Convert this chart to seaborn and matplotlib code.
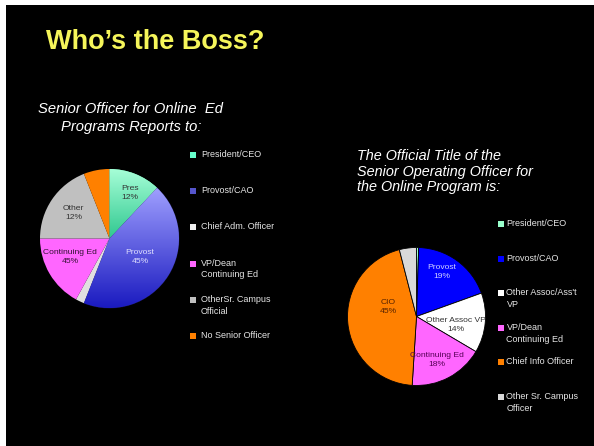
import numpy as np
import matplotlib
matplotlib.use('Agg')
import matplotlib.pyplot as plt
from matplotlib.patches import Rectangle
import seaborn as sns

# ---- data ----
LEFT_CATEGORIES = ['President/CEO', 'Provost/CAO', 'Chief Adm. Officer',
                   'VP/Dean\nContinuing Ed', 'OtherSr. Campus\nOfficial',
                   'No Senior Officer']
LEFT_SHARES = [12, 44, 2, 17, 19, 6]
LEFT_SLICE_LABELS = ['Pres\n12%', 'Provost\n45%', '', 'Continuing Ed\n45%',
                     'Other\n12%', '']

RIGHT_CATEGORIES = ['President/CEO', 'Provost/CAO', "Other Assoc/Ass't\nVP",
                    'VP/Dean\nContinuing Ed', 'Chief Info Officer',
                    'Other Sr. Campus\nOfficer']
RIGHT_SHARES = [0.5, 19, 14, 17.5, 45, 4]
RIGHT_SLICE_LABELS = ['', 'Provost\n19%', 'Other Assoc VP\n14%',
                      'Continuing Ed\n18%', 'CIO\n45%', '']

TITLE = 'Who\u2019s the Boss?'
LEFT_SUBTITLE = 'Senior Officer for Online  Ed\nPrograms Reports to:'
RIGHT_SUBTITLE = ('The Official Title of the\nSenior Operating Officer for\n'
                  'the Online Program is:')

# ---- styles ----
LEFT_COLORS = sns.color_palette(['#66EEB0', '#5050E0', '#E0E0E0', '#FF66FF',
                                 '#C0C0C0', '#FF8000'])
LEFT_LEGEND_COLORS = ['#66FFCC', '#5555CC', '#F0F0F0', '#FF66FF', '#C0C0C0', '#FF8000']
LEFT_GRADIENTS = {0: ('#30C890', '#A8FFD8'), 1: ('#1A1AC0', '#A0A0FF')}
LEFT_LABEL_COLORS = ['#333333', '#E0E0FF', None, '#331133', '#333333', None]
LEFT_LABEL_XY = [(0.30, 0.66), (0.44, -0.27), None, (-0.57, -0.27), (-0.52, 0.37), None]

RIGHT_COLORS = sns.color_palette(['#99FFCC', '#0000FF', '#FFFFFF', '#FF66FF',
                                  '#FF8000', '#D9D9D9'])
RIGHT_LABEL_COLORS = [None, '#D0D0FF', '#333333', '#550055', '#552200', None]
RIGHT_LABEL_XY = [None, (0.37, 0.65), (0.57, -0.12), (0.30, -0.63), (-0.41, 0.14), None]

W, H = 594, 446
FONT = ['Liberation Sans', 'DejaVu Sans']

sns.set_style('dark')
plt.rcParams['font.family'] = FONT


def fx(x):
    return x / W


def fy(y):
    return 1 - y / H


def pie_axes(fig, cx, cy, r):
    return fig.add_axes([fx(cx - r), fy(cy + r), 2 * r / W, 2 * r / H])


def draw_pie(ax, shares, colors, labels, label_xy, label_colors):
    wedges, _ = ax.pie(shares, colors=colors, startangle=90, counterclock=False,
                       wedgeprops=dict(linewidth=0))
    for lab, xy, c in zip(labels, label_xy, label_colors):
        if lab:
            ax.text(xy[0], xy[1], lab, ha='center', va='center', color=c,
                    fontsize=6.1, linespacing=1.35, zorder=5)
    return wedges


def finish(ax):
    ax.set_xlim(-1, 1)
    ax.set_ylim(-1, 1)
    ax.set_aspect('auto')
    ax.axis('off')


def draw_legend(fig, cats, colors, mx, tx, y0, pitch):
    for i, (cat, c) in enumerate(zip(cats, colors)):
        y = y0 + i * pitch
        fig.patches.append(Rectangle((fx(mx - 3), fy(y + 3)), 6 / W, 6 / H,
                                     transform=fig.transFigure, facecolor=c,
                                     edgecolor='none', zorder=3))
        fig.text(fx(tx), fy(y - 5), cat, ha='left', va='top', color='#E6E6E6',
                 fontsize=6.5, linespacing=1.4)


fig = plt.figure(figsize=(W / 100, H / 100), dpi=100)
fig.patch.set_facecolor('white')
fig.patches.append(Rectangle((fx(6), 0), 1 - fx(6), fy(5), transform=fig.transFigure,
                             facecolor='black', edgecolor='none', zorder=-5))

fig.text(fx(155), fy(42), TITLE, ha='center', va='center', color='#F5F55A',
         fontsize=19.5, fontweight='bold')
fig.text(fx(131), fy(118), LEFT_SUBTITLE, ha='center', va='center', color='white',
         fontsize=10.6, style='italic', linespacing=1.3)
fig.text(fx(357), fy(149), RIGHT_SUBTITLE, ha='left', va='top', color='white',
         fontsize=10.4, style='italic', linespacing=1.15)

# left pie
ax1 = pie_axes(fig, 109.5, 238.5, 69.5)
wl = draw_pie(ax1, LEFT_SHARES, LEFT_COLORS, LEFT_SLICE_LABELS, LEFT_LABEL_XY,
              LEFT_LABEL_COLORS)
grad = np.linspace(0, 1, 256).reshape(-1, 1)
for i, (dark, light) in LEFT_GRADIENTS.items():
    w = wl[i]
    ext = w.get_path().get_extents()
    cmap = sns.blend_palette([dark, light], as_cmap=True)
    im = ax1.imshow(grad, cmap=cmap, origin='lower', aspect='auto',
                    extent=[-1, 1, ext.y0, ext.y1], zorder=1.5)
    im.set_clip_path(w)
wl[1].set_edgecolor('#101030')
wl[1].set_linewidth(0.6)
finish(ax1)

# right pie
ax2 = pie_axes(fig, 416.5, 316.5, 69)
wr = draw_pie(ax2, RIGHT_SHARES, RIGHT_COLORS, RIGHT_SLICE_LABELS, RIGHT_LABEL_XY,
              RIGHT_LABEL_COLORS)
for w in wr:
    w.set_edgecolor('black')
    w.set_linewidth(0.6)
finish(ax2)

draw_legend(fig, LEFT_CATEGORIES, LEFT_LEGEND_COLORS, 193, 201, 155, 36.2)
draw_legend(fig, RIGHT_CATEGORIES, list(RIGHT_COLORS), 500.5, 506.5, 224, 34.6)

fig.savefig('out.png', dpi=100, facecolor=fig.get_facecolor())
